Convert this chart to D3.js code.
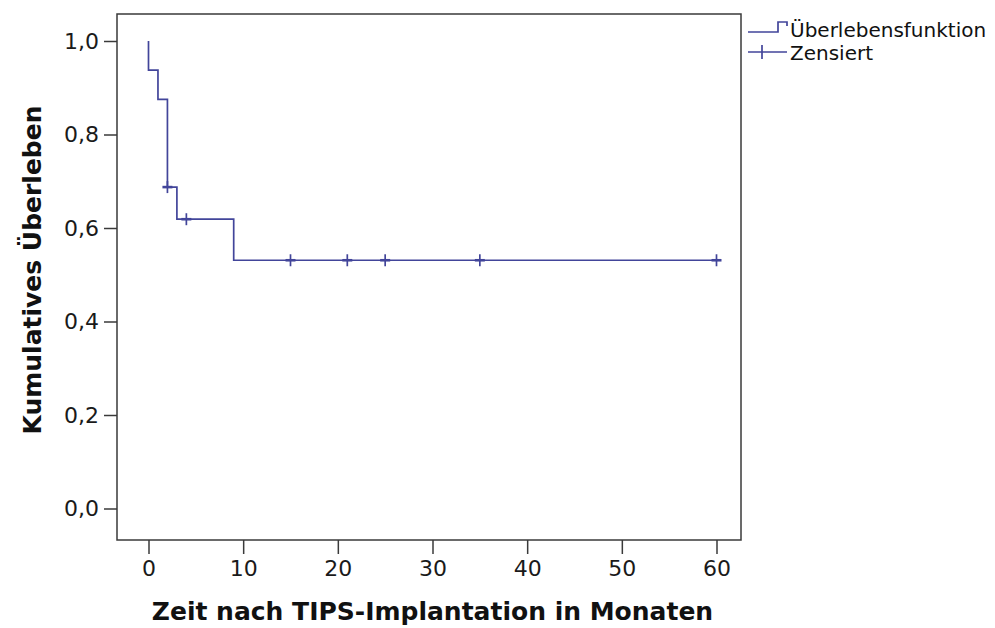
<!DOCTYPE html>
<html>
<head>
<meta charset="utf-8">
<script src="https://cdn.jsdelivr.net/npm/d3@7"></script>
<style>
  body { margin: 0; background: #fff; }
  svg { display: block; }
</style>
</head>
<body>
<div id="chart"></div>
<script>
// Kaplan-Meier data
const eventTimes = [0, 1, 2, 3, 9];
const survival = [0.9375, 0.875, 0.6875, 0.6188, 0.531];
const endTime = 60;
const censorTimes = [2, 4, 15, 21, 25, 35, 60];
const xTicks = [0, 10, 20, 30, 40, 50, 60];
const yTicks = [0, 0.2, 0.4, 0.6, 0.8, 1.0];

const width = 995, height = 628;
const frame = { left: 117, right: 741, top: 14, bottom: 540 };
const lineColor = "#42459a";
const font = "'DejaVu Sans', sans-serif";

const svg = d3.select("#chart").append("svg")
  .attr("width", width)
  .attr("height", height);

const x = d3.scaleLinear().domain([0, 60]).range([148.5, 716.5]);
const y = d3.scaleLinear().domain([0, 1]).range([508.5, 41]);

// frame
svg.append("rect")
  .attr("x", frame.left).attr("y", frame.top)
  .attr("width", frame.right - frame.left)
  .attr("height", frame.bottom - frame.top)
  .attr("fill", "none")
  .attr("stroke", "#3a3a3a")
  .attr("stroke-width", 1.5);

// x axis
const xAxis = svg.append("g")
  .attr("transform", `translate(0,${frame.bottom})`)
  .call(d3.axisBottom(x).tickValues(xTicks).tickSize(14).tickSizeOuter(0).tickPadding(6));
xAxis.select(".domain").remove();
xAxis.selectAll("line").attr("stroke", "#3a3a3a").attr("stroke-width", 1.5);
xAxis.selectAll("text")
  .attr("font-family", font).attr("font-size", 22).attr("fill", "#1a1a1a");

// y axis
const yAxis = svg.append("g")
  .attr("transform", `translate(${frame.left},0)`)
  .call(d3.axisLeft(y).tickValues(yTicks).tickSize(13).tickSizeOuter(0).tickPadding(5)
    .tickFormat(d => d3.format(".1f")(d).replace(".", ",")));
yAxis.select(".domain").remove();
yAxis.selectAll("line").attr("stroke", "#3a3a3a").attr("stroke-width", 1.5);
yAxis.selectAll("text")
  .attr("font-family", font).attr("font-size", 22).attr("fill", "#1a1a1a");

// axis titles
svg.append("text")
  .attr("x", (x(0) + x(60)) / 2).attr("y", 620)
  .attr("text-anchor", "middle")
  .attr("font-family", font).attr("font-size", 25).attr("font-weight", "bold")
  .attr("fill", "#111")
  .text("Zeit nach TIPS-Implantation in Monaten");

svg.append("text")
  .attr("transform", "translate(41,270) rotate(-90)")
  .attr("text-anchor", "middle")
  .attr("font-family", font).attr("font-size", 25).attr("font-weight", "bold")
  .attr("fill", "#111")
  .text("Kumulatives Überleben");

// survival step line
const pts = [[0, 1]];
eventTimes.forEach((t, i) => pts.push([t, survival[i]]));
pts.push([endTime, survival[survival.length - 1]]);

svg.append("path")
  .datum(pts)
  .attr("fill", "none")
  .attr("stroke", lineColor)
  .attr("stroke-width", 1.7)
  .attr("d", d3.line().x(d => x(d[0])).y(d => y(d[1])).curve(d3.curveStepAfter));

// survival value at time t (step function)
function survAt(t) {
  let s = 1;
  eventTimes.forEach((e, i) => { if (e <= t) s = survival[i]; });
  return s;
}

// censor marks
const marks = svg.append("g").attr("stroke", lineColor).attr("stroke-width", 1.7);
censorTimes.forEach(t => {
  const cx = x(t), cy = y(survAt(t));
  marks.append("line").attr("x1", cx).attr("x2", cx).attr("y1", cy - 6).attr("y2", cy + 6);
  marks.append("line").attr("x1", cx - 5).attr("x2", cx + 5).attr("y1", cy).attr("y2", cy)
    .attr("stroke-width", 2.6);
});

// legend
const leg = svg.append("g");
leg.append("path")
  .attr("d", "M748,32 H778 V22 H787 V26")
  .attr("fill", "none").attr("stroke", lineColor).attr("stroke-width", 1.7);
leg.append("text")
  .attr("x", 790).attr("y", 37)
  .attr("font-family", font).attr("font-size", 20).attr("fill", "#111")
  .text("Überlebensfunktion");
leg.append("line")
  .attr("x1", 748).attr("x2", 787).attr("y1", 52).attr("y2", 52)
  .attr("stroke", lineColor).attr("stroke-width", 1.7);
leg.append("line")
  .attr("x1", 762).attr("x2", 762).attr("y1", 45).attr("y2", 59)
  .attr("stroke", lineColor).attr("stroke-width", 1.7);
leg.append("text")
  .attr("x", 790).attr("y", 60)
  .attr("font-family", font).attr("font-size", 20).attr("fill", "#111")
  .text("Zensiert");
</script>
</body>
</html>
